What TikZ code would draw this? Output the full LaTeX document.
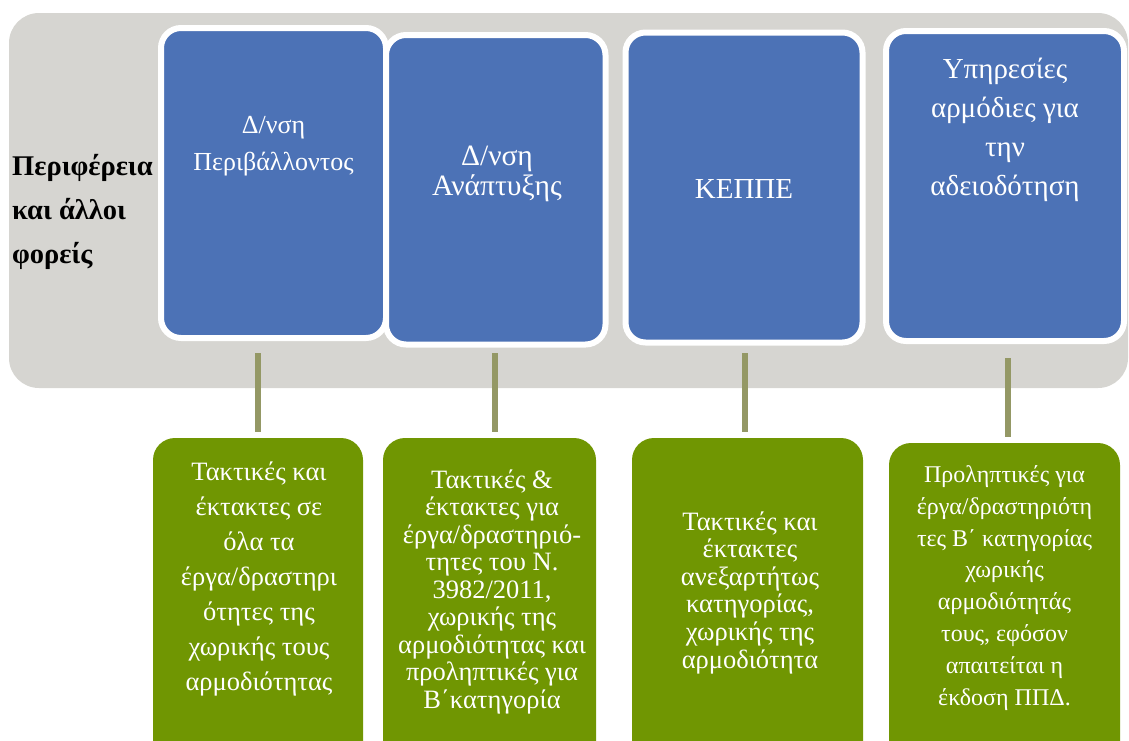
\documentclass[tikz,border=0pt]{standalone}
\usepackage{fontspec}
\setmainfont{Liberation Serif}
\definecolor{bgpanel}{RGB}{214,213,209}
\definecolor{blueb}{RGB}{76,114,182}
\definecolor{greenb}{RGB}{112,150,2}
\definecolor{olivec}{RGB}{148,152,101}
\tikzset{
  bluebox/.style={rectangle, draw=white, line width=6pt, fill=blueb, rounded corners=20pt, inner sep=0pt},
  greenbox/.style={rectangle, fill=greenb, rounded corners=22pt, inner sep=0pt},
  conn/.style={draw=olivec, line width=6pt, shorten >=6pt},
  btext/.style={text=white, align=center, anchor=base, inner sep=0pt},
}
\begin{document}
\begin{tikzpicture}[x=1pt,y=-1pt]
\useasboundingbox (0,0) rectangle (1129,740);
\clip (0,0) rectangle (1129,740);
\fill[bgpanel, rounded corners=30pt] (9,13) rectangle (1128,388);
\node[anchor=base west, align=left, inner sep=0pt, font=\fontsize{28.5pt}{44pt}\selectfont\bfseries] (lbl) at (12,263) {Περιφέρεια\\και άλλοι\\φορείς};
% blue boxes
\node[bluebox, minimum width=225pt, minimum height=310pt] (b1) at (273.5,183) {};
\node[bluebox, minimum width=219.5pt, minimum height=309.5pt] (b2) at (495.75,189.75) {};
\node[bluebox, minimum width=237pt, minimum height=310pt] (b3) at (744,187.5) {};
\node[bluebox, minimum width=238pt, minimum height=310pt] (b4) at (1005,186) {};
\node[btext, font=\fontsize{26pt}{37pt}\selectfont] (t1) at (273.5,170) {Δ/νση\\Περιβάλλοντος};
\node[btext, font=\fontsize{29.5pt}{30pt}\selectfont] (t2) at (497,195) {Δ/νση\\Ανάπτυξης};
\node[btext, font=\fontsize{29pt}{30pt}\selectfont] (t3) at (744,198) {ΚΕΠΠΕ};
\node[btext, font=\fontsize{29pt}{39pt}\selectfont] (t4) at (1005,195) {Υπηρεσίες\\αρμόδιες για\\την\\αδειοδότηση};
% green boxes
\node[greenbox, minimum width=210pt, minimum height=342pt] (g1) at (258,609) {};
\node[greenbox, minimum width=213pt, minimum height=342pt] (g2) at (489.5,609) {};
\node[greenbox, minimum width=231pt, minimum height=342pt] (g3) at (747.5,609) {};
\node[greenbox, minimum width=231pt, minimum height=342pt] (g4) at (1004.5,614) {};
\node[btext, font=\fontsize{26.5pt}{35pt}\selectfont] (u1) at (259,690) {Τακτικές και\\έκτακτες σε\\όλα τα\\έργα/δραστηρι\\ότητες της\\χωρικής τους\\αρμοδιότητας};
\node[btext, font=\fontsize{26.5pt}{27.5pt}\selectfont] (u2) at (492,708) {Τακτικές \&\\έκτακτες για\\έργα/δραστηριό-\\τητες του Ν.\\3982/2011,\\χωρικής της\\αρμοδιότητας και\\προληπτικές για\\Β΄κατηγορία};
\node[btext, font=\fontsize{26.5pt}{27.6pt}\selectfont] (u3) at (750,668) {Τακτικές και\\έκτακτες\\ανεξαρτήτως\\κατηγορίας,\\χωρικής της\\αρμοδιότητα};
\node[btext, font=\fontsize{24pt}{31.8pt}\selectfont] (u4) at (1004.5,705) {Προληπτικές για\\έργα/δραστηριότη\\τες Β΄ κατηγορίας\\χωρικής\\αρμοδιότητάς\\τους, εφόσον\\απαιτείται η\\έκδοση ΠΠΔ.};
% connectors
\coordinate (k1) at (258,353);
\coordinate (k2) at (495,353);
\coordinate (k3) at (745,353);
\coordinate (k4) at (1008,358);
\draw[conn] (k1) -- (k1 |- g1.north);
\draw[conn] (k2) -- (k2 |- g2.north);
\draw[conn] (k3) -- (k3 |- g3.north);
\draw[conn] (k4) -- (k4 |- g4.north);
\end{tikzpicture}
\end{document}
